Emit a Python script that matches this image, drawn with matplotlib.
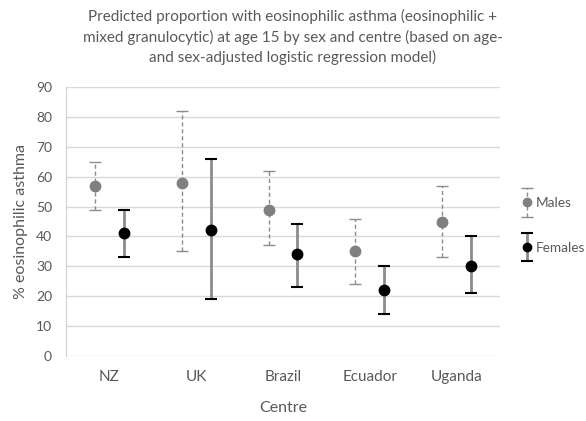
import matplotlib
matplotlib.use("Agg")
import matplotlib.pyplot as plt
from matplotlib.legend_handler import HandlerErrorbar
from matplotlib.container import ErrorbarContainer
import numpy as np

centres = ["NZ", "UK", "Brazil", "Ecuador", "Uganda"]
male_est = [57, 58, 49, 35, 45]
male_lo = [49, 35, 37, 24, 33]
male_hi = [65, 82, 62, 46, 57]
female_est = [41, 42, 34, 22, 30]
female_lo = [33, 19, 23, 14, 21]
female_hi = [49, 66, 44, 30, 40]

plt.rcParams['font.family'] = ['Lato', 'DejaVu Sans']
txt = '#595959'

fig = plt.figure(figsize=(5.86, 4.21), dpi=100)
ax = fig.add_axes([66/586, 1-356/421, 434/586, (356-87)/421])

x = np.arange(len(centres))
off = 0.167

m_est = np.array(male_est); f_est = np.array(female_est)
m_err = [m_est - np.array(male_lo), np.array(male_hi) - m_est]
f_err = [f_est - np.array(female_lo), np.array(female_hi) - f_est]

em = ax.errorbar(x - off, m_est, yerr=m_err, fmt='o', color='#808080', ms=7.5,
                 ecolor='#8c8c8c', elinewidth=1.0, capsize=4, capthick=1.0, zorder=3)
em[2][0].set_linestyle((0, (3, 2)))
ef = ax.errorbar(x + off, f_est, yerr=f_err, fmt='o', color='black', ms=7.5,
                 ecolor='#8c8c8c', elinewidth=2.0, capsize=4.5, capthick=1.5, zorder=3)
for c in ef[1]:
    c.set_color('black')
    c.set_markeredgecolor('black')

ax.set_xlim(-0.5, 4.5)
ax.set_ylim(0, 90)
ax.set_yticks(range(0, 91, 10))
ax.set_xticks(x)
ax.set_xticklabels(centres)
ax.yaxis.grid(True, color='#d9d9d9', lw=1.0)
ax.set_axisbelow(True)
for s in ['top', 'right', 'bottom']:
    ax.spines[s].set_visible(False)
ax.spines['left'].set_color('#d0d0d0')
ax.tick_params(axis='both', length=0, colors=txt)
ax.tick_params(axis='x', pad=10, labelsize=11)
ax.tick_params(axis='y', pad=10, labelsize=10)
ax.set_ylabel('% eosinophilic asthma', color=txt, fontsize=11.5, labelpad=6)
ax.set_xlabel('Centre', color=txt, fontsize=11.5, labelpad=12)

fig.text(0.5, 1-37/421, "Predicted proportion with eosinophilic asthma (eosinophilic +\n"
         "mixed granulocytic) at age 15 by sex and centre (based on age-\n"
         "and sex-adjusted logistic regression model)",
         ha='center', va='center', color=txt, fontsize=11, linespacing=1.45)

leg = ax.legend([em, ef], ['Males', 'Females'], loc='center left',
                bbox_to_anchor=(515/586, 1-225.5/421), bbox_transform=fig.transFigure,
                frameon=False, fontsize=9.8, handlelength=0.8, handletextpad=0.2,
                labelspacing=2.4, borderpad=0, markerscale=0.8,
                handler_map={ErrorbarContainer: HandlerErrorbar(yerr_size=1.05)})
for t in leg.get_texts():
    t.set_color(txt)

fig.savefig('out.png', dpi=100)
